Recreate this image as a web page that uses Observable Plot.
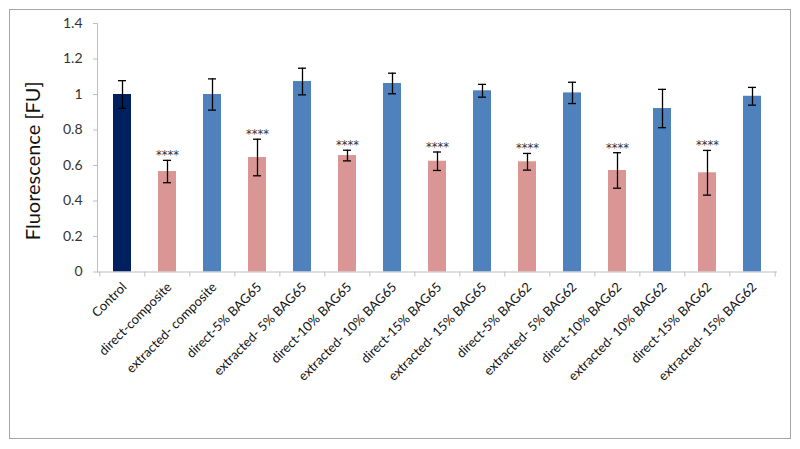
<!DOCTYPE html>
<html>
<head>
<meta charset="utf-8">
<script src="https://cdn.jsdelivr.net/npm/d3@7"></script>
<script src="https://cdn.jsdelivr.net/npm/@observablehq/plot@0.6"></script>
<style>
  html, body { margin: 0; padding: 0; background: #fff; }
  #wrap { position: relative; width: 800px; height: 449px; }
  #wrap svg { display: block; }
  #border { position: absolute; left: 9px; top: 9px; width: 782px; height: 430px; box-sizing: border-box; border: 1px solid #a6a6a6; pointer-events: none; }
</style>
</head>
<body>
<div id="wrap"><div id="border"></div></div>
<script>
const categories = [
  "Control", "direct-composite", "extracted- composite",
  "direct-5% BAG65", "extracted- 5% BAG65",
  "direct-10% BAG65", "extracted- 10% BAG65",
  "direct-15% BAG65", "extracted- 15% BAG65",
  "direct-5% BAG62", "extracted- 5% BAG62",
  "direct-10% BAG62", "extracted- 10% BAG62",
  "direct-15% BAG62", "extracted- 15% BAG62"
];
const values = [1.0, 0.566, 1.0, 0.645, 1.073, 0.656, 1.062, 0.624, 1.021, 0.621, 1.009, 0.572, 0.921, 0.559, 0.99];
const errors = [0.078, 0.063, 0.088, 0.103, 0.075, 0.03, 0.058, 0.052, 0.036, 0.047, 0.06, 0.1, 0.108, 0.126, 0.05];
const groups = ["control", "direct", "extracted", "direct", "extracted", "direct", "extracted", "direct", "extracted", "direct", "extracted", "direct", "extracted", "direct", "extracted"];
const significance = ["", "****", "", "****", "", "****", "", "****", "", "****", "", "****", "", "****", ""];
const groupNames = ["control", "direct", "extracted"];
const groupColors = ["#002060", "#D99694", "#4F81BD"];
const yTicks = [0, 0.2, 0.4, 0.6, 0.8, 1, 1.2, 1.4];
const yLabel = "Fluorescence [FU]";

const data = categories.map((c, i) => ({
  category: c, value: values[i], err: errors[i], group: groups[i], sig: significance[i]
}));

const W = 800, H = 449, ML = 97, MR = 23, MT = 23, MB = 177.5;
const step = (W - ML - MR) / categories.length;
const font = "Lato, 'Open Sans', sans-serif";

const chart = Plot.plot({
  width: W, height: H,
  marginLeft: ML, marginRight: MR, marginTop: MT, marginBottom: MB,
  style: { fontFamily: font, background: "transparent", overflow: "visible", color: "#262626" },
  x: { domain: categories, paddingInner: 0.59, paddingOuter: 0.295, axis: null, label: null },
  y: { domain: [0, 1.4], axis: null, label: null },
  color: { domain: groupNames, range: groupColors },
  marks: [
    Plot.barY(data, { x: "category", y: "value", fill: "group" }),
    Plot.ruleX(data, { x: "category", y1: d => d.value - d.err, y2: d => d.value + d.err, stroke: "#000", strokeWidth: 1.3 }),
    Plot.tickY(data, { x: "category", y: d => d.value - d.err, stroke: "#000", strokeWidth: 1.3, insetLeft: 5, insetRight: 5 }),
    Plot.tickY(data, { x: "category", y: d => d.value + d.err, stroke: "#000", strokeWidth: 1.3, insetLeft: 5, insetRight: 5 }),
    Plot.text(data.filter(d => d.sig), { x: "category", y: d => d.value + d.err, text: "sig", lineAnchor: "bottom", dy: -1, fontSize: 11.5, fontFamily: "'DejaVu Sans', sans-serif", fill: "#333" }),
    Plot.frame({ anchor: "left", stroke: "#bfbfbf" }),
    Plot.ruleY([0], { stroke: "#bfbfbf" }),
    Plot.axisY({ ticks: yTicks, tickFormat: d3.format("~g"), tickSize: 4, tickPadding: 11, fontSize: 14, stroke: "#bfbfbf", fill: "#333", label: null }),
    Plot.axisX({ ticks: categories, tickSize: 5, text: null, dx: -step / 2, stroke: "#bfbfbf", label: null }),
    Plot.axisX({ ticks: [categories[categories.length - 1]], tickSize: 5, text: null, dx: step / 2, stroke: "#bfbfbf", label: null }),
    Plot.axisX({ ticks: categories, tickSize: 0, tickPadding: 13, tickRotate: -45, fontSize: 13, fill: "#111", dx: 2, label: null }),
    Plot.text([yLabel], { frameAnchor: "left", textAnchor: "middle", rotate: -90, dx: -64, dy: 13, fontSize: 20, fill: "#111" })
  ]
});
document.getElementById("wrap").prepend(chart);
</script>
</body>
</html>
